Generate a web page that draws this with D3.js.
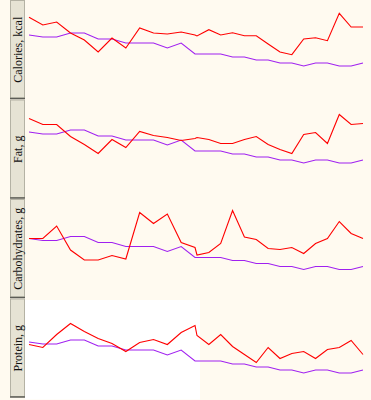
<!DOCTYPE html>
<html>
<head>
<meta charset="utf-8">
<script src="https://cdn.jsdelivr.net/npm/d3@7"></script>
<style>
    body { margin: 0; background: #fffaf0; }
    svg { display: block; }
</style>
</head>
<body>
<div id="chart"></div>
<script>
// days since start of log
const days = [0, 7, 14, 21, 28, 35, 42, 49, 56, 63, 70, 77, 84,
    85, 91, 97, 103, 109, 115, 121, 127, 133, 139, 145, 151, 157, 163, 169];

// body weight, kg (purple line, same in every panel)
const weight = [82.0, 81.8, 81.8, 82.2, 82.2, 81.6, 81.6, 81.2, 81.2, 81.2, 80.7, 81.2, 80.1,
    80.1, 80.1, 80.1, 79.8, 79.8, 79.5, 79.5, 79.2, 79.2, 78.9, 79.2, 79.2, 78.9, 78.9, 79.2];

const calories = [2254, 2100, 2160, 1940, 1800, 1560, 1840, 1640, 2040, 1940, 1920, 1960, 1900,
    1880, 2006, 1900, 1946, 1886, 1886, 1720, 1560, 1506, 1820, 1846, 1786, 2334, 2060, 2060];
const fat = [111, 105, 105, 93, 85, 76, 90, 82, 98, 94, 92, 89, 91,
    92, 90, 86, 86, 90, 93, 85, 80, 76, 95, 97, 86, 115, 105, 106];
const carbs = [221, 221, 246, 198, 178, 178, 187, 180, 273, 251, 270, 213, 203,
    188, 193, 211, 277, 224, 219, 201, 199, 203, 191, 211, 221, 255, 231, 221];
const protein = [104, 101, 114, 125, 117, 110, 105, 97, 106, 109, 104, 116, 123,
    113, 104, 114, 102, 94, 86, 101, 90, 95, 97, 90, 99, 101, 108, 94];

const panelLabels = ['Calories, kcal', 'Fat, g', 'Carbohydrates, g', 'Protein, g'];
const panelSeries = [calories, fat, carbs, protein];
const panelDomains = [[2600, 610], [130, 30.5], [300, 101], [150, 50.5]];
const weightDomains = [[85.5, 75.55], [85.25, 75.3], [85.95, 76.0], [86.35, 76.4]];

const width = 371;
const height = 400;
const panelH = 99.5;

const svg = d3.select('#chart').append('svg')
    .attr('width', width)
    .attr('height', height);

svg.append('rect')
    .attr('width', width)
    .attr('height', height)
    .attr('fill', '#fffaf0');

const x = d3.scaleLinear()
    .domain([0, 169])
    .range([29, 363]);

panelLabels.forEach((label, i) => {
    const top = i * panelH;
    const g = svg.append('g');

    // last panel has a white plotting patch on the left half
    if (i === 3) {
        g.append('rect')
            .attr('x', 25)
            .attr('y', top + 1.5)
            .attr('width', 175)
            .attr('height', panelH)
            .attr('fill', '#ffffff');
    }

    // strip label
    g.append('rect')
        .attr('x', 10.5)
        .attr('y', top + 0.5)
        .attr('width', 14)
        .attr('height', panelH - 2)
        .attr('fill', '#e6e3d4')
        .attr('stroke', '#b4b2a4');
    g.append('line')
        .attr('x1', 10).attr('x2', 25)
        .attr('y1', top + panelH - 1).attr('y2', top + panelH - 1)
        .attr('stroke', '#5c5c56')
        .attr('stroke-width', 1.5);
    g.append('text')
        .attr('transform', `translate(22,${top + panelH / 2}) rotate(-90)`)
        .attr('text-anchor', 'middle')
        .style('font-family', '"Liberation Serif", serif')
        .style('font-size', '12px')
        .attr('fill', '#111')
        .text(label);

    const y = d3.scaleLinear()
        .domain(panelDomains[i])
        .range([top, top + panelH]);
    const yW = d3.scaleLinear()
        .domain(weightDomains[i])
        .range([top, top + panelH]);

    const vals = panelSeries[i];

    g.append('path')
        .datum(days)
        .attr('fill', 'none')
        .attr('stroke', '#a020f0')
        .attr('stroke-width', 1.1)
        .attr('d', d3.line()
            .x(d => x(d))
            .y((d, j) => yW(weight[j])));

    g.append('path')
        .datum(days)
        .attr('fill', 'none')
        .attr('stroke', '#ff0000')
        .attr('stroke-width', 1.1)
        .attr('d', d3.line()
            .x(d => x(d))
            .y((d, j) => y(vals[j])));
});
</script>
</body>
</html>
